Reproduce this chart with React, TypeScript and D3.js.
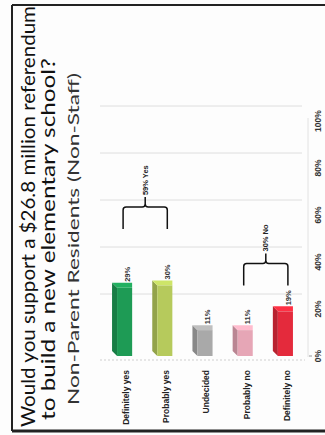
import React from "react";
import * as d3 from "d3";

const titleLines = [
  "Would you support a $26.8 million referendum",
  "to build a new elementary school?",
];
const subtitle = "Non-Parent Residents (Non-Staff)";
const categories = ["Definitely yes", "Probably yes", "Undecided", "Probably no", "Definitely no"];
const values = [29, 30, 11, 11, 19];
const valueLabels = ["29%", "30%", "11%", "11%", "19%"];
const colors = ["#1e9b55", "#b6ca5c", "#a9a9a9", "#e6a6b6", "#e42a3c"];
const tickValues = [0, 20, 40, 60, 80, 100];
const groupLabels = ["59% Yes", "30% No"];
const groupFrom = [0, 3];
const groupTo = [1, 4];
const groupLevel = [54, 30];

const W = 325;
const H = 435;

export default function App() {
  const y = d3.scaleLinear().domain([0, 100]).range([356, 121]);
  const x = d3.scaleBand<string>().domain(categories).range([102, 303]).paddingInner(0.5).paddingOuter(0.25);
  const bw = x.bandwidth();
  const d = 5;
  const cx = (c: string) => (x(c) as number) + bw / 2;

  return (
    <svg width={W} height={H} style={{ position: "absolute", left: 0, top: 0, background: "#fff" }}>
      <rect x={0} y={0} width={W} height={H} fill="#fdfdfd" />
      {/* frame */}
      <line x1={12} y1={5} x2={W} y2={5} stroke="#222" strokeWidth={2} />
      <line x1={12} y1={5} x2={12} y2={431} stroke="#222" strokeWidth={2} />
      <line x1={12} y1={431} x2={W} y2={431} stroke="#222" strokeWidth={3} />

      {/* titles */}
      <g fontFamily="Lato, Liberation Sans, Arial, sans-serif" fill="#111">
        <text transform={`translate(35,427) rotate(-90)`} fontSize={20} textLength={421} lengthAdjust="spacingAndGlyphs">
          {titleLines[0]}
        </text>
        <text transform={`translate(55,420) rotate(-90)`} fontSize={20} textLength={362} lengthAdjust="spacingAndGlyphs">
          {titleLines[1]}
        </text>
        <text transform={`translate(79,405) rotate(-90)`} fontSize={16} fill="#333" textLength={332} lengthAdjust="spacingAndGlyphs">
          {subtitle}
        </text>
      </g>

      {/* back wall gridlines */}
      {tickValues.slice(1).map((t) => (
        <line key={t} x1={100} x2={302} y1={y(t) - 15} y2={y(t) - 15} stroke="#dedede" strokeWidth={1} />
      ))}
      <line x1={308} x2={308} y1={118} y2={357} stroke="#e2e2e2" strokeWidth={1} />
      <line x1={100} x2={305} y1={360} y2={360} stroke="#cfcfcf" strokeWidth={1} strokeDasharray="2,2" />
      <line x1={309} x2={312} y1={y(0)} y2={y(0)} stroke="#999" strokeWidth={1} />

      {/* bars */}
      {categories.map((c, i) => {
        const x0 = x(c) as number;
        const yt = y(values[i]);
        const yb = y(0);
        const base = d3.color(colors[i]) as d3.RGBColor;
        const dark = base.darker(0.6).formatHex();
        const light = base.brighter(0.35).formatHex();
        return (
          <g key={c}>
            <polygon points={`${x0 + d},${yb} ${x0},${yb - d} ${x0},${yt - d} ${x0 + d},${yt}`} fill={dark} />
            <polygon points={`${x0 + d},${yt} ${x0},${yt - d} ${x0 + bw},${yt - d} ${x0 + bw},${yt}`} fill={light} />
            <rect x={x0 + d} y={yt} width={bw - d} height={yb - yt} fill={colors[i]} />
          </g>
        );
      })}

      {/* value labels */}
      {categories.map((c, i) => (
        <text
          key={c}
          transform={`translate(${cx(c) + 5},${y(values[i]) - d - 1}) rotate(-90)`}
          fontFamily="Liberation Sans, Arial, sans-serif"
          fontWeight="bold"
          fontSize={7.5}
          fill="#333"
          dy="0.35em"
        >
          {valueLabels[i]}
        </text>
      ))}

      {/* category labels */}
      {categories.map((c) => (
        <text
          key={c}
          transform={`translate(${cx(c) + 4},370) rotate(-90)`}
          textAnchor="end"
          dy="0.35em"
          fontFamily="Liberation Sans, Arial, sans-serif"
          fontWeight="bold"
          fontSize={8.5}
          fill="#222"
        >
          {c}
        </text>
      ))}

      {/* axis tick labels */}
      {tickValues.map((t) => (
        <text
          key={t}
          transform={`translate(318,${y(t)}) rotate(-90)`}
          textAnchor="middle"
          dy="0.35em"
          fontFamily="Liberation Sans, Arial, sans-serif"
          fontWeight="bold"
          fontSize={8.5}
          fill="#333"
        >
          {`${t}%`}
        </text>
      ))}

      {/* braces */}
      {groupLabels.map((g, i) => {
        const xl = cx(categories[groupFrom[i]]) + 1;
        const xr = cx(categories[groupTo[i]]) + 5;
        const xm = (xl + xr) / 2;
        const yEnd = y(groupLevel[i]);
        const yH = yEnd - 22;
        const r = 3;
        const path = `M${xl},${yEnd} L${xl},${yH + r} Q${xl},${yH} ${xl + r},${yH} L${xm - r},${yH} Q${xm},${yH} ${xm},${yH - r} Q${xm},${yH} ${xm + r},${yH} L${xr - r},${yH} Q${xr},${yH} ${xr},${yH + r} L${xr},${yEnd} M${xm},${yH - r} L${xm},${yH - 10}`;
        return (
          <g key={g}>
            <path d={path} fill="none" stroke="#111" strokeWidth={1.5} />
            <text
              transform={`translate(${xm},${yH - 12}) rotate(-90)`}
              dy="0.35em"
              fontFamily="Liberation Sans, Arial, sans-serif"
              fontWeight="bold"
              fontSize={7.5}
              fill="#222"
            >
              {g}
            </text>
          </g>
        );
      })}
    </svg>
  );
}
